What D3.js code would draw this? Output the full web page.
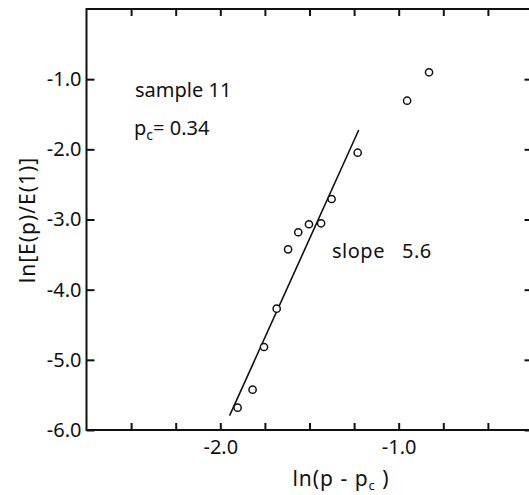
<!DOCTYPE html>
<html>
<head>
<meta charset="utf-8">
<script src="https://cdn.jsdelivr.net/npm/d3@7"></script>
<style>
  body { margin: 0; background: #fff; }
  text { font-family: "Noto Sans", sans-serif; fill: #111; }
</style>
</head>
<body>
<svg class="main"></svg>
<script>
// measured points, ln(p - pc) vs ln[E(p)/E(1)]
let lnP = [-1.903, -1.819, -1.755, -1.684, -1.620, -1.563, -1.503, -1.435, -1.376, -1.230, -0.953, -0.830];
let lnE = [-5.682, -5.425, -4.817, -4.271, -3.425, -3.182, -3.068, -3.054, -2.708, -2.048, -1.307, -0.902];
// fitted line ends (slope 5.6)
let fitX = [-1.948, -1.224];
let fitY = [-5.796, -1.724];
let xTicks = [-2.5, -2.25, -2.0, -1.75, -1.5, -1.25, -1.0, -0.75, -0.5];
let xLabels = [-2.0, -1.0];
let yTicks = [-1, -2, -3, -4, -5, -6];

let w = 529, h = 495;

let svg = d3.select('.main')
  .attr('width', w)
  .attr('height', h);

let x = d3.scaleLinear().domain([-2.75, -0.25]).range([86.5, 532.5]);
let y = d3.scaleLinear().domain([-6, 0]).range([430, 9]);

// frame
svg.append('rect')
  .attr('x', x(-2.75)).attr('y', y(0))
  .attr('width', x(-0.25) - x(-2.75))
  .attr('height', y(-6) - y(0))
  .attr('fill', 'none')
  .attr('stroke', '#111')
  .attr('stroke-width', 2);

let styleAxis = g => {
  g.select('.domain').remove();
  g.selectAll('.tick line').attr('stroke', '#111').attr('stroke-width', 2);
  g.selectAll('.tick text').style('font-size', '20px').attr('fill', '#111');
};

svg.append('g')
  .attr('transform', `translate(0,${y(-6)})`)
  .call(d3.axisBottom(x).tickValues(xTicks).tickSize(-7).tickPadding(10)
    .tickFormat(d => xLabels.includes(d) ? d.toFixed(1) : ''))
  .call(styleAxis);

svg.append('g')
  .attr('transform', `translate(0,${y(0)})`)
  .call(d3.axisTop(x).tickValues(xTicks).tickSize(-7).tickFormat(''))
  .call(styleAxis);

svg.append('g')
  .attr('transform', `translate(${x(-2.75)},0)`)
  .call(d3.axisLeft(y).tickValues(yTicks).tickSize(-8).tickPadding(5)
    .tickFormat(d => d.toFixed(1)))
  .call(styleAxis);

svg.append('g')
  .attr('transform', `translate(${x(-0.25)},0)`)
  .call(d3.axisRight(y).tickValues(yTicks).tickSize(-8).tickFormat(''))
  .call(styleAxis);

// fit line
svg.append('path')
  .datum(d3.zip(fitX, fitY))
  .attr('d', d3.line().x(d => x(d[0])).y(d => y(d[1])))
  .attr('fill', 'none')
  .attr('stroke', '#111')
  .attr('stroke-width', 1.6);

// points
svg.append('g')
  .selectAll('circle')
  .data(d3.zip(lnP, lnE))
  .enter()
  .append('circle')
  .attr('cx', d => x(d[0]))
  .attr('cy', d => y(d[1]))
  .attr('r', 3.6)
  .attr('fill', '#fff')
  .attr('stroke', '#111')
  .attr('stroke-width', 1.5);

// annotations
svg.append('text')
  .attr('x', 135).attr('y', 97)
  .style('font-size', '20px')
  .text('sample 11');

let pc = svg.append('text')
  .attr('x', 134).attr('y', 135)
  .style('font-size', '20px');
pc.append('tspan').text('p');
pc.append('tspan').attr('dy', 5).style('font-size', '14px').text('c');
pc.append('tspan').attr('dy', -5).text('= 0.34');

svg.append('text')
  .attr('x', 332).attr('y', 258)
  .style('font-size', '20px')
  .style('white-space', 'pre')
  .style('letter-spacing', '0.5px')
  .text('slope   5.6');

// axis titles
let xt = svg.append('text')
  .attr('x', 341).attr('y', 486)
  .attr('text-anchor', 'middle')
  .style('font-size', '21px')
  .style('letter-spacing', '1px');
xt.append('tspan').text('ln(p - p');
xt.append('tspan').attr('dy', 4).style('font-size', '13px').text('c');
xt.append('tspan').attr('dy', -4).text(' )');

svg.append('text')
  .attr('transform', 'translate(35,220) rotate(-90)')
  .attr('text-anchor', 'middle')
  .style('font-size', '21px')
  .style('letter-spacing', '1px')
  .text('ln[E(p)/E(1)]');
</script>
</body>
</html>
